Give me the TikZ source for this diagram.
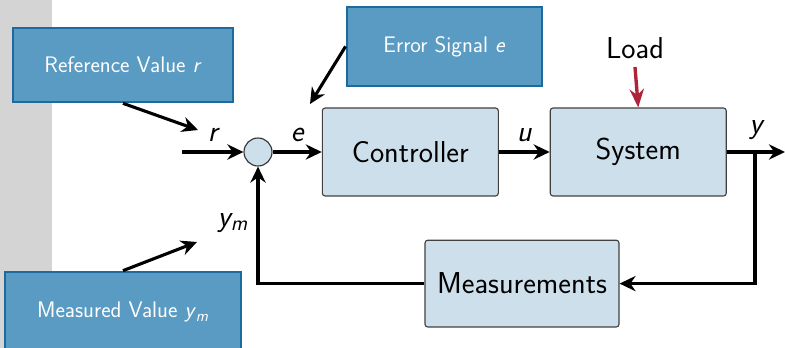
\documentclass[tikz,border=0pt]{standalone}
\usepackage{fontspec}
\usetikzlibrary{positioning,arrows.meta}
\definecolor{blocfill}{HTML}{CDDFEB}
\definecolor{notafill}{HTML}{5A9BC3}
\definecolor{notadraw}{HTML}{1D6A9F}
\definecolor{sarcinared}{HTML}{B0243A}
\definecolor{margine}{HTML}{D4D4D4}
\tikzset{
  bloc/.style     = {draw=black!75, fill=blocfill, rounded corners=2pt, line width=0.8pt,
                     minimum width=44mm, minimum height=22mm, font=\sffamily\fontsize{21.5}{25}\selectfont},
  notita/.style   = {draw=notadraw, fill=notafill, line width=1.9pt, text=white,
                     font=\sffamily\fontsize{16}{19}\selectfont},
  suma/.style     = {circle, draw=black!80, fill=blocfill, line width=0.8pt,
                     minimum size=7mm, inner sep=0pt},
  eticheta/.style = {font=\sffamily\fontsize{21.5}{25}\selectfont\itshape, inner sep=1pt},
  sageata/.style  = {-{Stealth[length=4mm,width=3.8mm]}, line width=2.2pt},
  sageatarosie/.style = {-{Stealth[length=4.6mm,width=3.6mm]}, line width=2.4pt, draw=sarcinared}
}

\begin{document}
\begin{tikzpicture}[node distance=12.5mm]
        \useasboundingbox (0,0) rectangle (19.625,-8.7);
        \fill[margine] (0,0) rectangle (1.3,-8.7);

        % bucla principala
        \node[suma] (suma) at (6.45,-3.8) {};
        \node[bloc, right=12.3mm of suma] (regulator) {Controller};
        \node[bloc, right=12.7mm of regulator] (sistem) {System};
        \node[bloc, minimum width=48.5mm, minimum height=21.7mm] (masura) at (13.05,-7.09) {Measurements};
        \node[font=\sffamily\fontsize{21.5}{25}\selectfont, inner sep=1pt] (sarcina) at (15.875,-1.2) {Load};

        \coordinate (intrare) at (4.55,-3.8);
        \coordinate (iesire) at (19.625,-3.8);
        \coordinate (ramura) at (18.875,-3.8);
        \coordinate (perturbatie) at (15.875,-1.675);

        \draw[sageata] (intrare) -- node[eticheta, above=1.8mm] {r} (suma);
        \draw[sageata] (suma) -- node[eticheta, above=1.8mm] {e} (regulator);
        \draw[sageata] (regulator) -- node[eticheta, above=1.8mm] {u} (sistem);
        \draw[sageata] (sistem.east |- iesire) -- node[eticheta, above=2.3mm] {y} (iesire);
        \draw[sageata] (ramura) |- (masura.east);
        \draw[sageata] (masura.west) -| node[eticheta, pos=0.76, left=1.8mm] {y\textsubscript{\textit{m}}} (suma.south);
        \draw[sageatarosie] (perturbatie) -- (sistem.north);

        % casutele explicative
        \node[notita, minimum width=55mm, minimum height=18.5mm] (referinta) at (3.075,-1.625) {Reference Value \textit{r}};
        \node[notita, minimum width=48.75mm, minimum height=19.75mm] (eroare) at (11.11,-1.16) {Error Signal \textit{e}};
        \node[notita, minimum width=59mm, minimum height=20mm] (masurat) at (3.075,-7.8) {Measured Value \textit{y}\textsubscript{\textit{m}}};

        \coordinate (spreR) at (4.95,-3.25);
        \coordinate (spreE) at (7.75,-2.6);
        \coordinate (spreYm) at (4.925,-6.05);

        \draw[sageata] (referinta.south) -- (spreR);
        \draw[sageata] (eroare.west) -- (spreE);
        \draw[sageata] (masurat.north) -- (spreYm);
    \end{tikzpicture}
\end{document}
